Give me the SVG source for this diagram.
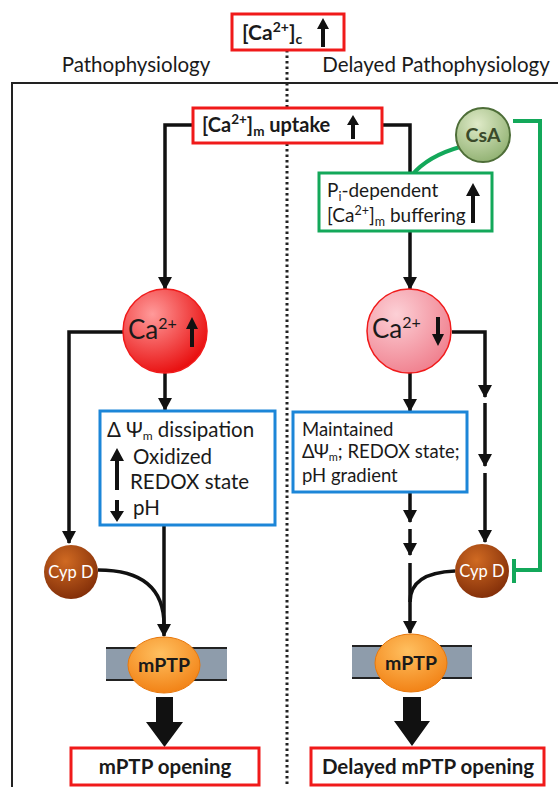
<svg xmlns="http://www.w3.org/2000/svg" width="558" height="787" viewBox="0 0 558 787">
  <style>
    text { font-family: Lato, "Open Sans", "Liberation Sans", sans-serif; fill: #1a1a1a; }
    .b { font-weight: bold; }
    .redbox { fill: #ffffff; stroke: #f01a1a; stroke-width: 3; }
    .bluebox { fill: #ffffff; stroke: #1c86d8; stroke-width: 3; }
    .greenbox { fill: #ffffff; stroke: #13a85a; stroke-width: 3; }
    .wire { fill: none; stroke: #111; stroke-width: 3.5; }
    .wa { fill: none; stroke: #111; stroke-width: 3.5; marker-end: url(#ah); }
    .green { fill: none; stroke: #13a85a; stroke-width: 4; }
    .tiny { fill: #111; }
    .cyp { fill: #ffffff; font-size: 16.5px; }
  </style>
  <defs>
    <marker id="ah" markerUnits="userSpaceOnUse" markerWidth="14" markerHeight="14" refX="12" refY="7" orient="auto">
      <path d="M0,0 L13,7 L0,14 z" fill="#111"/>
    </marker>
    <radialGradient id="gRed" cx="0.35" cy="0.3" r="0.75">
      <stop offset="0" stop-color="#ff9a9a"/>
      <stop offset="1" stop-color="#e80c0c"/>
    </radialGradient>
    <radialGradient id="gPink" cx="0.35" cy="0.3" r="0.75">
      <stop offset="0" stop-color="#fcd0d6"/>
      <stop offset="1" stop-color="#f0808e"/>
    </radialGradient>
    <radialGradient id="gCsA" cx="0.4" cy="0.3" r="0.75">
      <stop offset="0" stop-color="#dfeac8"/>
      <stop offset="1" stop-color="#8fb070"/>
    </radialGradient>
    <radialGradient id="gCyp" cx="0.4" cy="0.3" r="0.8">
      <stop offset="0" stop-color="#d06a22"/>
      <stop offset="1" stop-color="#7a2806"/>
    </radialGradient>
    <radialGradient id="gPTP" cx="0.45" cy="0.3" r="0.8">
      <stop offset="0" stop-color="#ffc060"/>
      <stop offset="1" stop-color="#f07a0c"/>
    </radialGradient>
  </defs>

  <!-- frame and divider -->
  <g id="frame">
    <path d="M12 787 V83 H558" fill="none" stroke="#222" stroke-width="2"/>
    <line x1="287" y1="50" x2="287" y2="787" stroke="#222" stroke-width="3" stroke-dasharray="2.5 3"/>
    <text x="136" y="72" font-size="20.5" text-anchor="middle">Pathophysiology</text>
    <text x="436" y="72" font-size="20.5" text-anchor="middle">Delayed Pathophysiology</text>
  </g>

  <!-- connectors -->
  <g id="connectors">
    <path class="wa" d="M193 125 H165 V289"/>
    <path class="wire" d="M382 125 H410 V173"/>
    <path class="wa" d="M410 231 V289"/>
    <path class="wa" d="M165 373 V410"/>
    <path class="wa" d="M123 332 H69 V543"/>
    <path class="wa" d="M164 525 V636"/>
    <path class="wire" d="M98 570 Q164 570 164 625"/>
    <path class="wa" d="M410 371 V411"/>
    <path class="wa" d="M410 492 V522"/>
    <path class="wa" d="M410 529 V555"/>
    <path class="wa" d="M410 563 V633"/>
    <path class="wire" d="M455 571 C428 572 410 580 410 602"/>
    <path class="wa" d="M452 332 H485 V397"/>
    <path class="wa" d="M485 403 V466"/>
    <path class="wa" d="M485 473 V542"/>
    <path class="green" d="M460 147 Q428 156 412 175" stroke-width="6"/>
    <path class="green" d="M513 121 H540 V570 H514"/>
    <line x1="514" y1="559" x2="514" y2="583" stroke="#13a85a" stroke-width="4"/>
    <!-- thick output arrows -->
    <path d="M156 697 H173 V722 H183 L164.5 747 L146 722 H156 z" fill="#111"/>
    <path d="M403 697 H421 V721 H430 L412 746 L394 721 H403 z" fill="#111"/>
  </g>

  <g id="ca-cyto">
    <rect class="redbox" x="232" y="14" width="112" height="36"/>
    <text class="b" x="242" y="40" font-size="21">[Ca<tspan font-size="14" dy="-8">2+</tspan><tspan dy="8">]</tspan><tspan font-size="14" dy="4">c</tspan></text>
    <path class="tiny" d="M321 47 V29 H317 L323 18 L329 29 H325 V47 z"/>
  </g>

  <g id="ca-uptake">
    <rect class="redbox" x="193" y="108" width="189" height="35"/>
    <text class="b" x="202" y="132" font-size="20">[Ca<tspan font-size="13.5" dy="-8">2+</tspan><tspan dy="8">]</tspan><tspan font-size="13.5" dy="4">m</tspan><tspan dy="-4"> uptake</tspan></text>
    <path class="tiny" d="M351 139 V125 H347 L353 115 L359 125 H355 V139 z"/>
  </g>

  <g id="buffering">
    <rect class="greenbox" x="319" y="173" width="173" height="58"/>
    <text x="327" y="197" font-size="19">P<tspan font-size="12.5" dy="4">i</tspan><tspan dy="-4">-dependent</tspan></text>
    <text x="327" y="222" font-size="19">[Ca<tspan font-size="12.5" dy="-7">2+</tspan><tspan dy="7">]</tspan><tspan font-size="12.5" dy="4">m</tspan><tspan dy="-4"> buffering</tspan></text>
    <path class="tiny" d="M471 223 V196 H466 L473 183 L480 196 H475 V223 z"/>
  </g>

  <g id="csa">
    <circle cx="483" cy="135" r="27" fill="url(#gCsA)" stroke="#4e6e38" stroke-width="2"/>
    <text class="b" x="483" y="142" font-size="19.5" text-anchor="middle" style="fill:#3a4a2a">CsA</text>
  </g>

  <g id="ca-high">
    <circle cx="165" cy="331" r="42" fill="url(#gRed)" stroke="#f01a1a" stroke-width="1.5"/>
    <text x="128" y="339" font-size="26">Ca<tspan font-size="16" dy="-10">2+</tspan></text>
    <path class="tiny" d="M190 347 V329 H186 L192 317 L198 329 H194 V347 z"/>
  </g>

  <g id="ca-low">
    <circle cx="409" cy="331" r="42" fill="url(#gPink)" stroke="#f01a1a" stroke-width="1.5"/>
    <text x="372" y="338" font-size="26">Ca<tspan font-size="16" dy="-10">2+</tspan></text>
    <path class="tiny" d="M436 317 V334 H432 L438 346 L444 334 H440 V317 z"/>
  </g>

  <g id="dissipation">
    <rect class="bluebox" x="100" y="411" width="175" height="114"/>
    <text x="107" y="437" font-size="20.5">Δ Ψ<tspan font-size="12" dy="3">m</tspan><tspan dy="-3"> dissipation</tspan></text>
    <text x="133" y="464" font-size="20.5">Oxidized</text>
    <text x="130" y="489" font-size="20.5">REDOX  state</text>
    <text x="133" y="515" font-size="20.5">pH</text>
    <path class="tiny" d="M115 490 V461 H110 L117 448 L124 461 H119 V490 z"/>
    <path class="tiny" d="M115 500 V511 H110 L117 522 L124 511 H119 V500 z"/>
  </g>

  <g id="maintained">
    <rect class="bluebox" x="293" y="412" width="174" height="80"/>
    <text x="302" y="436" font-size="18.5">Maintained</text>
    <text x="302" y="458" font-size="18.5">ΔΨ<tspan font-size="11" dy="3">m</tspan><tspan dy="-3">; REDOX state;</tspan></text>
    <text x="302" y="482" font-size="18.5">pH gradient</text>
  </g>

  <g id="cypd-left">
    <circle cx="71" cy="572" r="27" fill="url(#gCyp)"/>
    <text class="cyp" x="71" y="578" text-anchor="middle" style="fill:#fff">Cyp D</text>
  </g>

  <g id="cypd-right">
    <circle cx="482" cy="571" r="27" fill="url(#gCyp)"/>
    <text class="cyp" x="482" y="577" text-anchor="middle" style="fill:#fff">Cyp D</text>
  </g>

  <g id="mptp-left">
    <rect x="106" y="648" width="121" height="32" fill="#8e9cab"/>
    <line x1="106" y1="648" x2="227" y2="648" stroke="#222" stroke-width="2"/>
    <line x1="106" y1="680" x2="227" y2="680" stroke="#222" stroke-width="2"/>
    <ellipse cx="164" cy="665" rx="36" ry="28" fill="url(#gPTP)" stroke="#e8780c" stroke-width="1"/>
    <text class="b" x="164" y="672" font-size="19.5" text-anchor="middle">mPTP</text>
  </g>

  <g id="mptp-right">
    <rect x="352" y="646" width="120" height="32" fill="#8e9cab"/>
    <line x1="352" y1="646" x2="472" y2="646" stroke="#222" stroke-width="2"/>
    <line x1="352" y1="678" x2="472" y2="678" stroke="#222" stroke-width="2"/>
    <ellipse cx="411" cy="663" rx="36" ry="29" fill="url(#gPTP)" stroke="#e8780c" stroke-width="1"/>
    <text class="b" x="411" y="670" font-size="19.5" text-anchor="middle">mPTP</text>
  </g>

  <g id="opening">
    <rect class="redbox" x="71" y="748" width="188" height="37"/>
    <text class="b" x="165" y="774" font-size="20.5" text-anchor="middle">mPTP opening</text>
  </g>

  <g id="delayed-opening">
    <rect class="redbox" x="311" y="748" width="233" height="37"/>
    <text class="b" x="428" y="774" font-size="20.5" text-anchor="middle">Delayed mPTP opening</text>
  </g>
</svg>
